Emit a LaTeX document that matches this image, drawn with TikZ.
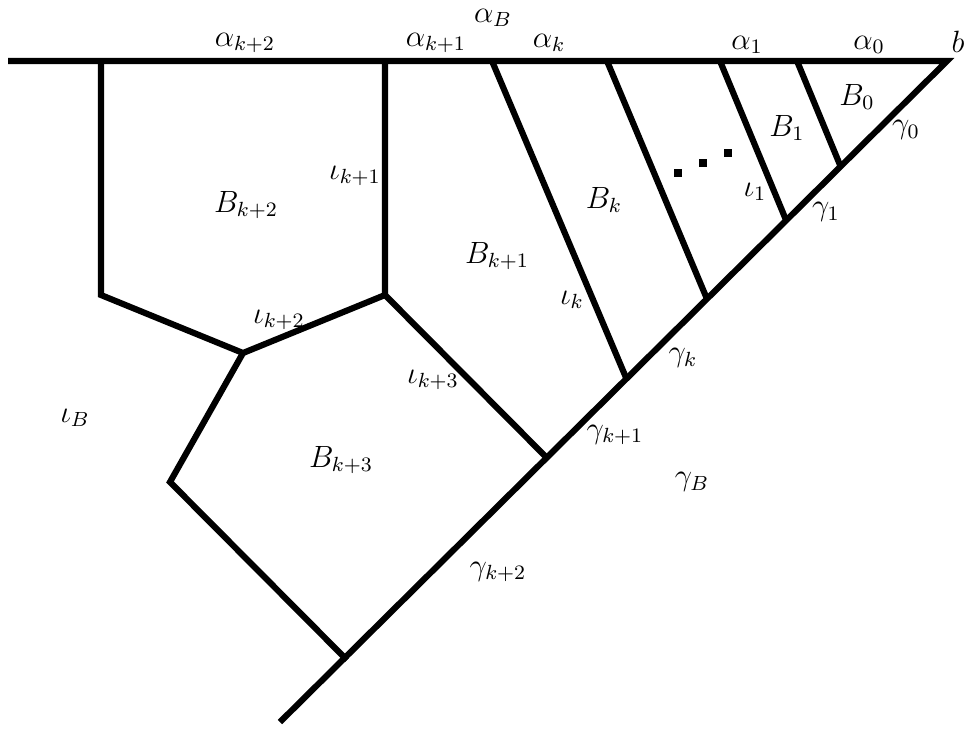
\documentclass[tikz,border=0pt]{standalone}
\usepackage{tikz}

\begin{document}
\begin{tikzpicture}[x=0.0137cm,y=-0.0137cm,every node/.style={font=\large}]
  \tikzset{edge/.style={line width=2.4pt}}
  \useasboundingbox (0,0) rectangle (964,730);

  % dreapta de sus si diagonala
  \coordinate (tl) at (8,61);
  \coordinate (b) at (947,61);
  \coordinate (gend) at (280,722);
  \draw[edge] (tl) -- (b) -- (gend);

  % puncte pe dreapta de sus
  \coordinate (a0) at (797,61);
  \coordinate (a1) at (720,61);
  \coordinate (a2) at (607,61);
  \coordinate (ak) at (492,61);
  \coordinate (v1) at (385,61);
  \coordinate (v2) at (101,61);

  % puncte pe diagonala
  \coordinate (g0) at (840,165);
  \coordinate (g1) at (786,220);
  \coordinate (g2) at (707,299);
  \coordinate (gk) at (627,380);
  \coordinate (g3) at (547,458);
  \coordinate (g4) at (347,660);

  % varfuri interioare
  \coordinate (m) at (385,295);
  \coordinate (n) at (243,353);
  \coordinate (w) at (101,295);
  \coordinate (s) at (170,482);

  % segmentele paralele
  \draw[edge] (a0) -- (g0);
  \draw[edge] (a1) -- (g1);
  \draw[edge] (a2) -- (g2);
  \draw[edge] (ak) -- (gk);

  % celelalte celule
  \draw[edge] (v1) -- (m) -- (g3);
  \draw[edge] (m) -- (n) -- (w) -- (v2);
  \draw[edge] (n) -- (s) -- (g4);

  % puncte de suspensie
  \foreach \p in {(678,173),(703,163),(728,153)}
    \fill \p ++(-4,-4) rectangle ++(8,8);

  % etichete
  \node (lab-aB) at (493,18) {$\alpha_B$};
  \node (lab-ak2) at (245,43) {$\alpha_{k+2}$};
  \node (lab-ak1) at (436,43) {$\alpha_{k+1}$};
  \node (lab-ak) at (549,43) {$\alpha_k$};
  \node (lab-a1) at (747,45) {$\alpha_1$};
  \node (lab-a0) at (869,45) {$\alpha_0$};
  \node[anchor=west,inner sep=0pt] (lab-b) at (951,42) {$b$};
  \node (lab-B0) at (857,97) {$B_0$};
  \node (lab-B1) at (787,128) {$B_1$};
  \node (lab-g0) at (906,130) {$\gamma_0$};
  \node (lab-g1) at (826,212) {$\gamma_1$};
  \node (lab-i1) at (755,192) {$\iota_1$};
  \node (lab-Bk) at (604,200) {$B_k$};
  \node (lab-ik1) at (355,176) {$\iota_{k+1}$};
  \node (lab-Bk2) at (246,205) {$B_{k+2}$};
  \node (lab-Bk1) at (497,256) {$B_{k+1}$};
  \node (lab-ik) at (572,300) {$\iota_k$};
  \node (lab-gk) at (683,358) {$\gamma_k$};
  \node (lab-ik2) at (279,320) {$\iota_{k+2}$};
  \node (lab-ik3) at (433,380) {$\iota_{k+3}$};
  \node (lab-gk1) at (615,435) {$\gamma_{k+1}$};
  \node (lab-gB) at (692,482) {$\gamma_B$};
  \node (lab-iB) at (75,418) {$\iota_B$};
  \node (lab-Bk3) at (341,460) {$B_{k+3}$};
  \node (lab-gk2) at (498,572) {$\gamma_{k+2}$};
\end{tikzpicture}
\end{document}
